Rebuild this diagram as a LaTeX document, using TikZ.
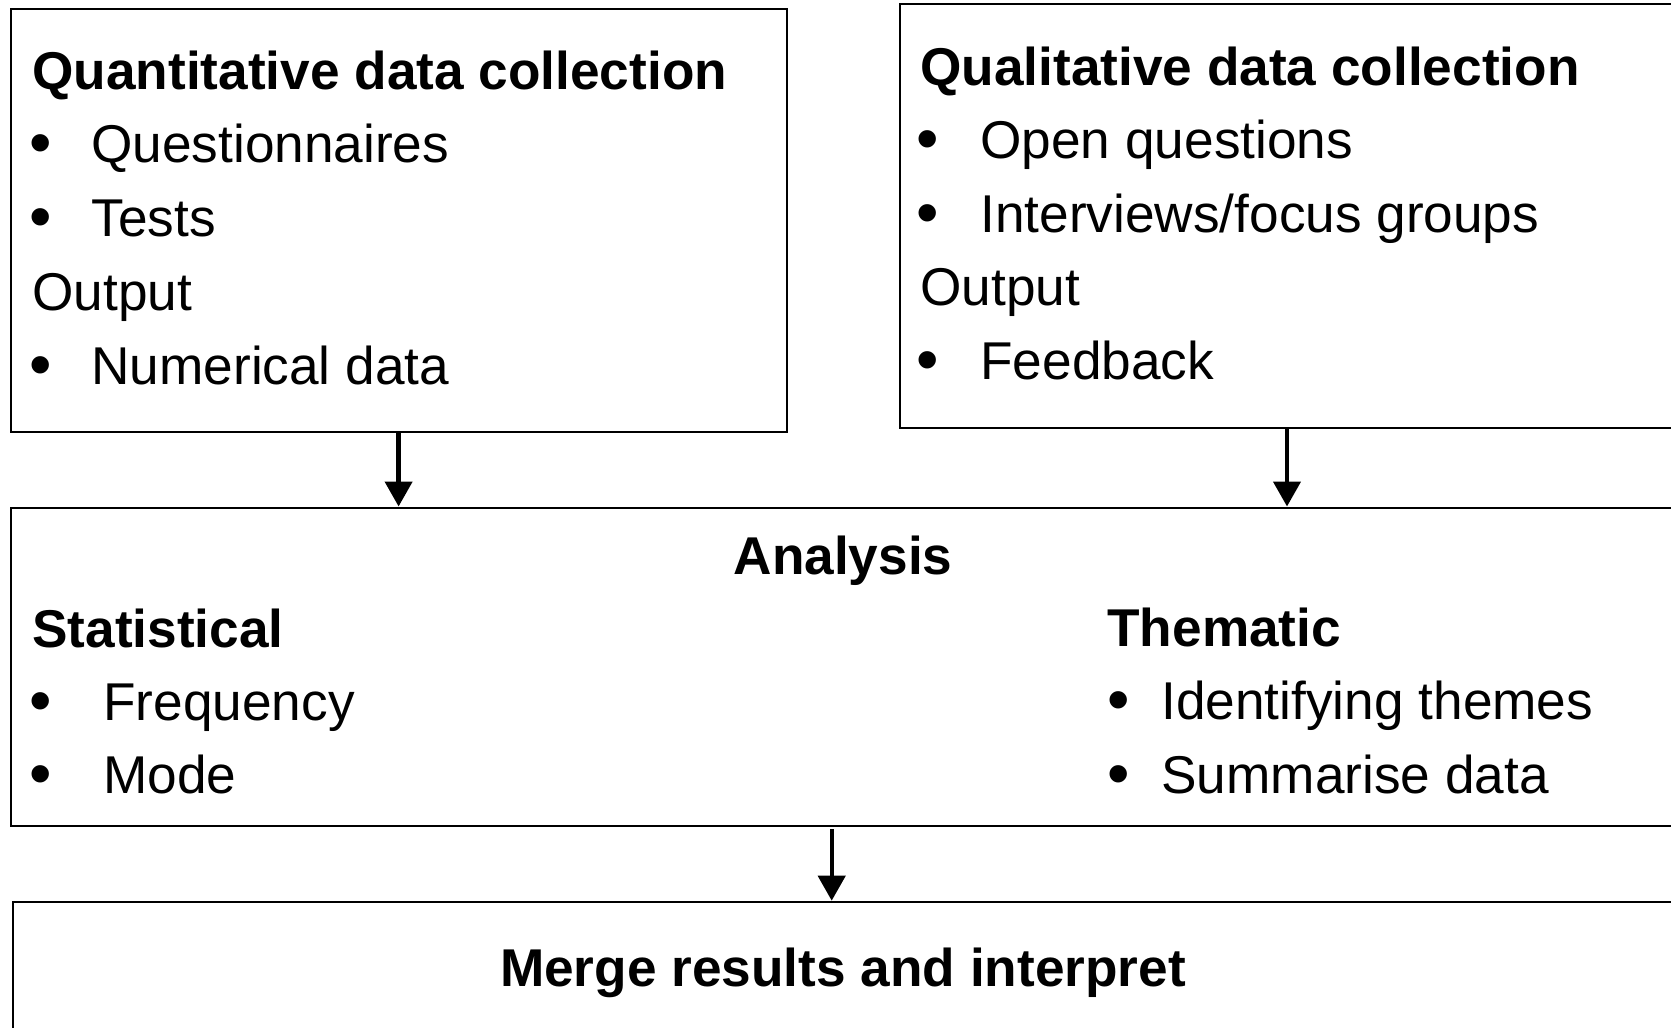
\documentclass[tikz,border=0pt]{standalone}
\usepackage{fontspec}
\setmainfont{Liberation Sans}
\usetikzlibrary{arrows.meta,fit,calc}
\begin{document}
\begin{tikzpicture}[x=0.5pt,y=-0.5pt,
  box/.style={draw, line width=1pt, inner sep=0pt},
  txt/.style={anchor=base west, inner sep=0pt, font=\fontsize{26.6}{32}\selectfont},
  hd/.style={anchor=base west, inner sep=0pt, font=\fontsize{26.6}{32}\selectfont\bfseries},
  hdc/.style={anchor=base, inner sep=0pt, font=\fontsize{26.6}{32}\selectfont\bfseries},
  bul/.style={anchor=base, inner sep=0pt, yshift=-1.2pt, font=\fontsize{32}{36}\selectfont},
  arr/.style={line width=2.2pt, -{Triangle[width=13.5pt,length=12.5pt]}}]
\useasboundingbox (0,0) rectangle (1671,1028);
\clip (0,0) rectangle (1671,1028);
\fill[white] (0,0) rectangle (1671,1028);

% boxes
\node[box, fit={(10.7,8.5) (786.5,431.7)}] (quant) {};
\node[box, fit={(899.5,3.5) (1674.5,427.7)}] (qual) {};
\node[box, fit={(10.7,507.5) (1674.5,825.7)}] (ana) {};
\node[box, fit={(12.7,901.7) (1674.5,1060)}] (merge) {};

% quantitative collection
\node[hd]  (q0) at (32,89)   {Quantitative data collection};
\node[bul] (qb1) at (40.5,162) {•};
\node[txt] (q1) at (91,162)  {Questionnaires};
\node[bul] (qb2) at (40.5,236) {•};
\node[txt] (q2) at (91,236)  {Tests};
\node[txt] (q3) at (32,310)  {Output};
\node[bul] (qb4) at (40.5,384) {•};
\node[txt] (q4) at (91,384)  {Numerical data};

% qualitative collection
\node[hd]  (l0) at (920,85)   {Qualitative data collection};
\node[bul] (lb1) at (928,158) {•};
\node[txt] (l1) at (980,158)  {Open questions};
\node[bul] (lb2) at (928,232) {•};
\node[txt] (l2) at (980,232)  {Interviews/focus groups};
\node[txt] (l3) at (920,305)  {Output};
\node[bul] (lb4) at (928,379) {•};
\node[txt] (l4) at (980,379)  {Feedback};

% analysis
\node[hdc] (a0) at (843,574) {Analysis};
\node[hd]  (s0) at (32,647)  {Statistical};
\node[bul] (sb1) at (40.5,720) {•};
\node[txt] (s1) at (103,720) {Frequency};
\node[bul] (sb2) at (40.5,793) {•};
\node[txt] (s2) at (103,793) {Mode};
\node[hd]  (t0) at (1107,646) {Thematic};
\node[bul] (tb1) at (1119,719) {•};
\node[txt] (t1) at (1161,719) {Identifying themes};
\node[bul] (tb2) at (1119,793) {•};
\node[txt] (t2) at (1161,793) {Summarise data};

% merge
\node[hdc] (m0) at (843,986) {Merge results and interpret};

% connectors
\draw[arr] (quant.south) -- (quant.south |- ana.north);
\draw[arr] (qual.south) -- (qual.south |- ana.north);
\coordinate (mstart) at ($(ana.south)+(-10.9,2.3)$);
\draw[arr] (mstart) -- (mstart |- merge.north);
\end{tikzpicture}
\end{document}
